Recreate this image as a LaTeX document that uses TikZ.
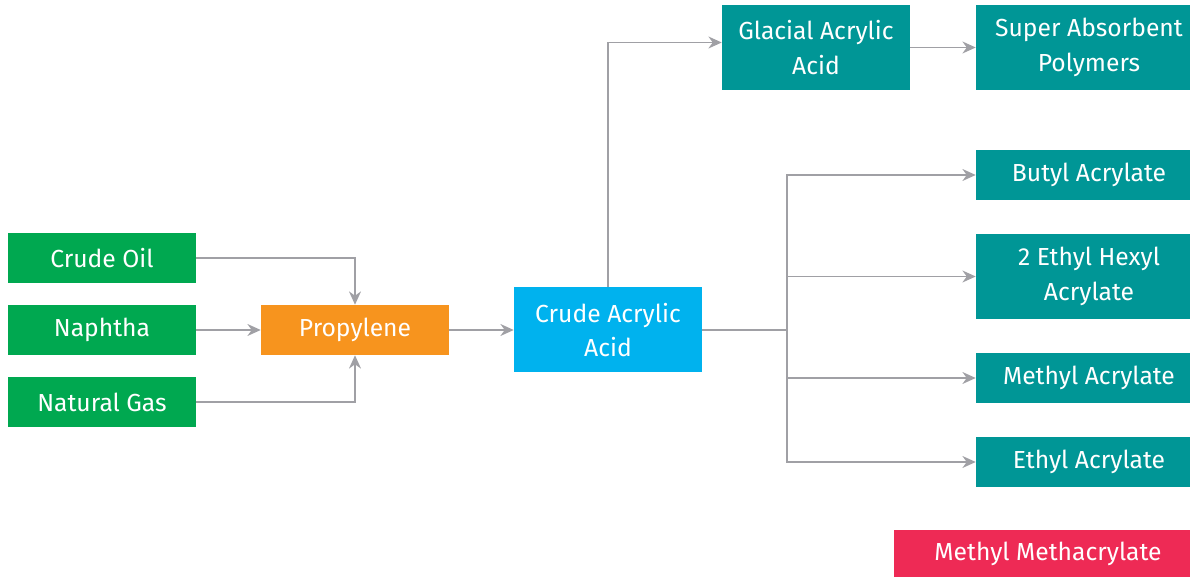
\documentclass[tikz,border=0pt]{standalone}
\usepackage{fontspec}
\setmainfont{Fira Sans}
\usetikzlibrary{arrows.meta,positioning,calc}
\definecolor{feedgreen}{RGB}{0,168,80}
\definecolor{propyorange}{RGB}{247,148,30}
\definecolor{crudecyan}{RGB}{0,178,238}
\definecolor{prodteal}{RGB}{0,150,150}
\definecolor{mmared}{RGB}{238,42,85}
\definecolor{linegray}{RGB}{160,160,165}

\begin{document}
\begin{tikzpicture}[
    x=0.75pt, y=-0.75pt,
    box/.style={
        rectangle, inner sep=0pt, text=white, align=center,
        minimum width=141pt, minimum height=37.5pt,
        font=\fontsize{18.5}{26}\selectfont
    },
    tallbox/.style={box, minimum height=63.75pt},
    flow/.style={draw=linegray, line width=1.1pt, -{Stealth[length=10pt,width=9pt]}},
    link/.style={draw=linegray, line width=1.1pt}
]
\useasboundingbox (0,0) rectangle (1190,577);

% Feedstocks
\node[box, fill=feedgreen] (oil) at (102,258) {Crude Oil};
\node[box, fill=feedgreen] (nap) at (102,330) {Naphtha};
\node[box, fill=feedgreen] (gas) at (102,402) {Natural Gas};

% Intermediates
\node[box, fill=propyorange] (prop) at (355,330) {Propylene};
\node[tallbox, fill=crudecyan] (caa) at (608,330) {Crude Acrylic\\Acid};
\node[tallbox, fill=prodteal] (gaa) at (816,47.5) {Glacial Acrylic\\Acid};

% Products
\node[tallbox, fill=prodteal, minimum width=169.5pt] (sap) at (1089,47.5) {Super Absorbent\\Polymers};
\node[box, fill=prodteal, minimum width=169.5pt] (ba) at (1089,175) {Butyl Acrylate};
\node[tallbox, fill=prodteal, minimum width=169.5pt] (eha) at (1089,276.5) {2 Ethyl Hexyl\\Acrylate};
\node[box, fill=prodteal, minimum width=169.5pt] (ma) at (1089,378) {Methyl Acrylate};
\node[box, fill=prodteal, minimum width=169.5pt] (ea) at (1089,462) {Ethyl Acrylate};
\node[box, fill=mmared, minimum width=231pt, minimum height=35pt] (mma) at (1048,553.5) {Methyl Methacrylate};

% Arrows
\draw[flow] (oil.east) -| (prop.north);
\draw[flow] (nap.east) -- (prop.west);
\draw[flow] (gas.east) -| (prop.south);
\draw[flow] (prop.east) -- (caa.west);
\draw[flow] (caa.north) |- ($(gaa.west)+(0,-5)$);
\draw[flow] (gaa) -- (sap);

% Branch to acrylates
\coordinate (br) at (787,330);
\draw[link] (caa.east) -- (br);
\draw[flow] (br) |- (ba.west);
\draw[flow] (br) |- (eha.west);
\draw[flow] (br) |- (ma.west);
\draw[flow] (br) |- (ea.west);

\end{tikzpicture}
\end{document}
